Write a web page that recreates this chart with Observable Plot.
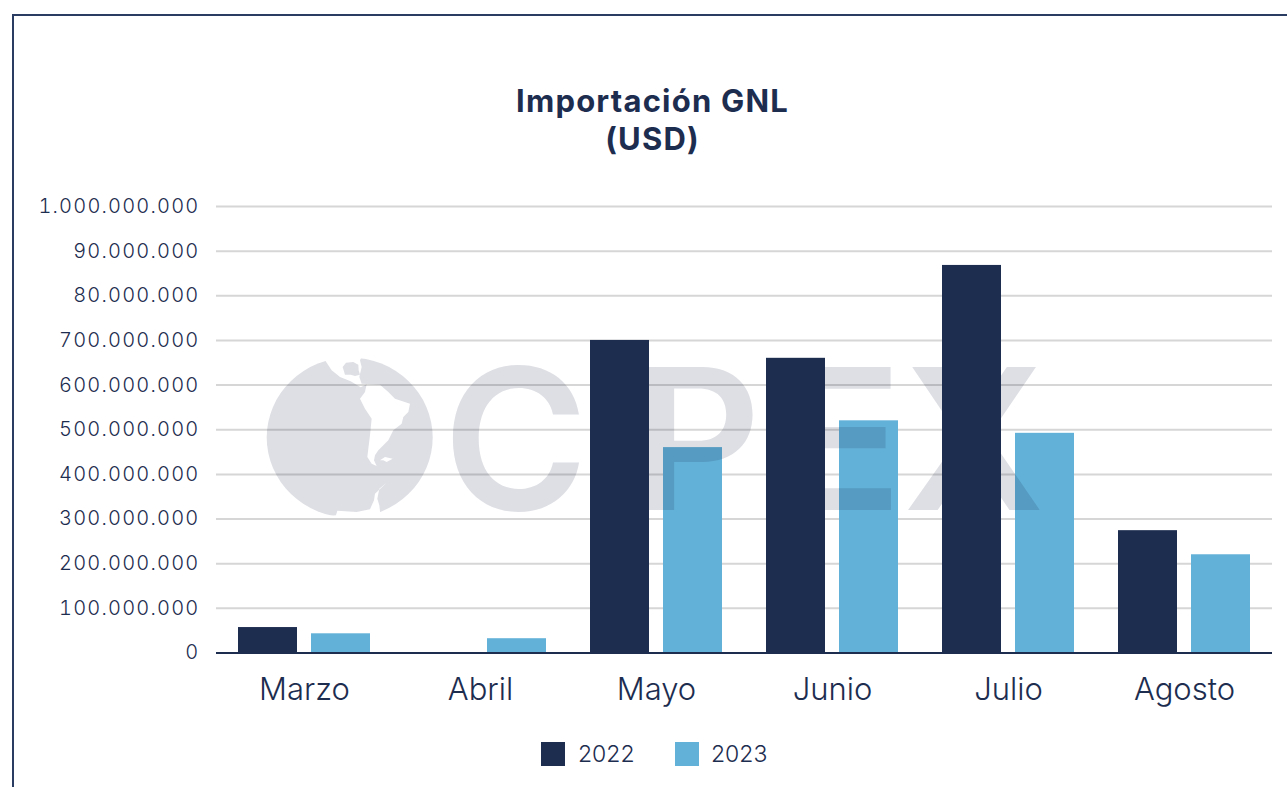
<!DOCTYPE html>
<html>
<head>
<meta charset="utf-8">
<script src="https://cdn.jsdelivr.net/npm/d3@7"></script>
<script src="https://cdn.jsdelivr.net/npm/@observablehq/plot@0.6"></script>
<style>
html,body{margin:0;padding:0;background:#fff;overflow:hidden}
body{width:1287px;height:787px;position:relative;font-family:Inter,sans-serif;color:#1d2d50}
#frame{position:absolute;left:11.5px;top:13.5px;right:0;bottom:0;border-left:2px solid #2b3c63;border-top:2px solid #2b3c63}
#title{position:absolute;left:0;width:1305px;top:82px;text-align:center;font-size:31px;line-height:37.6px;font-weight:700;letter-spacing:1.2px}
#chart{position:absolute;left:0;top:180px}
#legend{position:absolute;top:742px;left:541px;height:24px;font-size:23px;line-height:24px;font-weight:350}
#legend span{position:absolute;top:0;white-space:nowrap}
#legend i{position:absolute;top:0;width:24px;height:24px}
#chart g[aria-label="y-axis tick label"] text{letter-spacing:1.2px;font-weight:350}
#chart g[aria-label="fx-axis tick label"] text{font-weight:350}
</style>
</head>
<body>
<div id="frame"></div>
<div id="title">Importación GNL<br>(USD)</div>
<div id="chart"></div>
<div id="legend"></div>
<script>
const months = ["Marzo", "Abril", "Mayo", "Junio", "Julio", "Agosto"];
const years = ["2022", "2023"];
const values2022 = [57000000, null, 700000000, 660000000, 868000000, 274000000];
const values2023 = [43000000, 32000000, 460000000, 520000000, 492000000, 220000000];
const yTicks = [0, 100000000, 200000000, 300000000, 400000000, 500000000, 600000000, 700000000, 800000000, 900000000, 1000000000];
const yTickLabels = ["0", "100.000.000", "200.000.000", "300.000.000", "400.000.000", "500.000.000", "600.000.000", "700.000.000", "80.000.000", "90.000.000", "1.000.000.000"];
const navy = "#1d2d50";
const sky = "#62b1d8";

const rows = months.flatMap((m, i) => [
  {month: m, year: years[0], value: values2022[i]},
  {month: m, year: years[1], value: values2023[i]}
]).filter(d => d.value != null);

const plot = Plot.plot({
  width: 1287,
  height: 510,
  marginLeft: 215,
  marginRight: 14,
  marginTop: 26,
  marginBottom: 37.5,
  style: {background: "transparent", color: navy, fontFamily: "Inter,sans-serif", overflow: "visible"},
  fx: {domain: months, padding: 0, label: null},
  x: {domain: years, axis: null, paddingInner: 0.19, paddingOuter: 0.3},
  y: {domain: [0, 1000000000], label: null},
  color: {domain: years, range: [navy, sky]},
  marks: [
    Plot.ruleY(yTicks.slice(1), {stroke: "#d6d6d6", strokeWidth: 2, strokeOpacity: 1}),
    Plot.barY(rows.filter(d => d.year === years[1]), {fx: "month", x: "year", y: "value", fill: "year"}),
    Plot.barY(rows.filter(d => d.year === years[0]), {fx: "month", x: "year", y: "value", fill: "year"}),
    Plot.ruleY([0], {stroke: navy, strokeWidth: 2}),
    Plot.axisY({ticks: yTicks, tickFormat: d => yTickLabels[yTicks.indexOf(d)], tickSize: 0, tickPadding: 17, fontSize: 20, label: null, fill: navy}),
    Plot.axisFx({anchor: "bottom", tickSize: 0, tickPadding: 25, fontSize: 31, label: null, fill: navy})
  ]
});
document.getElementById("chart").appendChild(plot);

// Logo watermark: sits above the light bars and grid, below the dark bars.
const markup = `
<g transform="translate(0,-180)" style="mix-blend-mode:multiply">
  <ellipse cx="349.7" cy="437.5" rx="83" ry="80" fill="#dedfe5"/>
  <g transform="translate(260,352) scale(0.3333)">
    <g fill="#fff">
      <path d="M320,96L360,98L385,120L405,140L450,155L445,180L430,195L425,215L400,235L385,265L370,280L355,295L345,310L342,325L350,342L335,335L322,315L325,290L330,250L335,200L315,170L300,140L315,120Z"/>
      <path d="M195,25L215,55L240,75L272,88L302,106L322,96L305,95L298,75L305,45L300,25L306,12L250,2Z"/>
      <path d="M360,325L375,315L398,320L380,330L370,325Z"/>
      <path d="M165,488L200,492L228,490L232,476L290,480L330,472L342,445L345,425L380,392L358,410L352,440L358,460L362,495L360,520L165,520Z"/>
    </g>
    <path fill="#dedfe5" d="M248,45L258,32L280,30L295,38L296,55L300,68L285,72L272,68L255,68Z"/>
  </g>
  <g fill="#dedfe5" font-family="Inter,sans-serif" font-weight="600" font-size="197" text-anchor="start">
    <text x="443" y="510">C</text>
    <text x="634" y="510">P</text>
    <text x="783" y="510">E</text>
    <text x="903" y="510">X</text>
  </g>
</g>`;
const svg = plot.tagName.toLowerCase() === "svg" ? plot : plot.querySelector("svg");
const holder = document.createElementNS("http://www.w3.org/2000/svg", "g");
holder.setAttribute("aria-label", "watermark");
holder.innerHTML = markup;
const barGroups = svg.querySelectorAll('g[aria-label="bar"]');
barGroups[1].parentNode.insertBefore(holder, barGroups[1]);

const legend = document.getElementById("legend");
[[0, 37, navy, years[0]], [134, 170, sky, years[1]]].forEach(([a, b, c, t]) => {
  const sw = document.createElement("i");
  sw.style.left = a + "px"; sw.style.background = c;
  const lb = document.createElement("span");
  lb.style.left = b + "px"; lb.textContent = t;
  legend.append(sw, lb);
});
</script>
</body>
</html>
